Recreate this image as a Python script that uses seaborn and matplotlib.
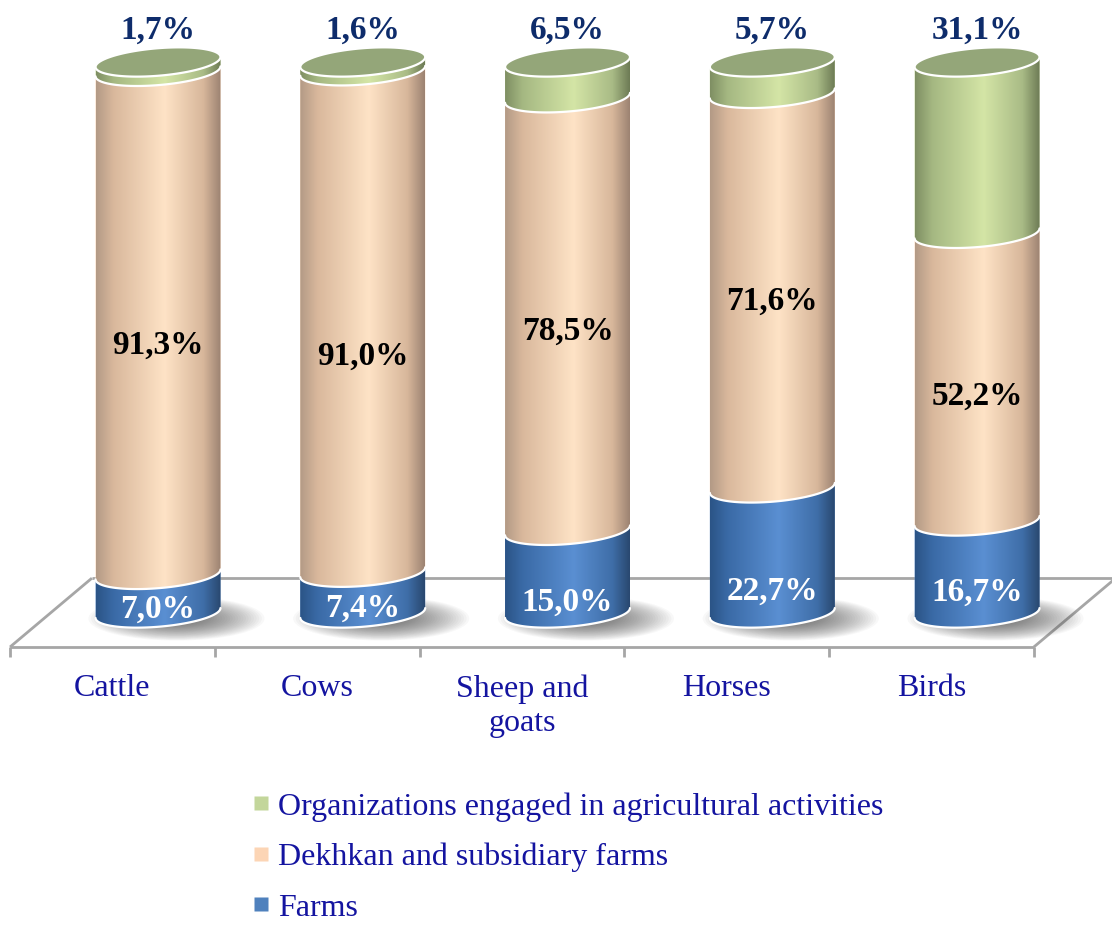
import numpy as np
import pandas as pd
import matplotlib
matplotlib.use("Agg")
import matplotlib.pyplot as plt
import seaborn as sns
from matplotlib.path import Path
from matplotlib.patches import PathPatch, Ellipse
from matplotlib.colors import LinearSegmentedColormap
from matplotlib.lines import Line2D

# ---- data -------------------------------------------------------------
categories = ["Cattle", "Cows", "Sheep and\ngoats", "Horses", "Birds"]
farms = [7.0, 7.4, 15.0, 22.7, 16.7]
dekhkan = [91.3, 91.0, 78.5, 71.6, 52.2]
organizations = [1.7, 1.6, 6.5, 5.7, 31.1]
series_names = ["Farms", "Dekhkan and subsidiary farms",
                "Organizations engaged in agricultural activities"]

# ---- layout -----------------------------------------------------------
W, H, DPI = 1112, 925, 100
X_LIM = (-0.7717, 4.659)
Y_LIM = (-56.62, 111.25)
BAR_W = 0.61
ELL_B = 2.5        # half height of the cylinder ellipses (percent units)
ELL_TILT = 0.9     # slight tilt of the ellipses
DEPTH_DX, DEPTH_DY = 0.40, 12.5   # floor depth
FRONT_SHIFT = 0.2228              # floor front edge offset to the left
FLOOR_FRONT_Y = -6.17
mid_label_y = [48.6, 46.6, 51.2, 56.6, 39.4]
low_label_y = [0.6, 0.8, 2.0, 4.0, 3.8]
top_label_y = 105.8
FS = 24

base_colors = ["#4F81BD", "#FCD5B5", "#C3D69B"]
gradients = [
    ["#2b5486", "#3a6aa6", "#5a8fd2", "#3f6ea8", "#29486f"],
    ["#b39a86", "#d9b89c", "#fee3c6", "#d8b79b", "#9c8372"],
    ["#7f8f63", "#a5b882", "#d4e5a6", "#a9bb86", "#6d7b55"],
]
grad_pos = [0.0, 0.14, 0.55, 0.86, 1.0]
top_face_color = "#94a679"

sns.set_theme(style="white")
plt.rcParams["font.family"] = ["Liberation Serif", "DejaVu Serif"]

fig = plt.figure(figsize=(W / DPI, H / DPI), dpi=DPI)
ax = fig.add_axes([0, 0, 1, 1])

df = pd.DataFrame({"category": categories, series_names[0]: farms,
                   series_names[1]: dekhkan, series_names[2]: organizations})

# stacked bars laid out by seaborn; each rectangle is then turned into a cylinder piece
bottoms = np.zeros(len(categories))
rects = []
for name in series_names:
    n_before = len(ax.patches)
    sns.barplot(data=df, x="category", y=name, bottom=bottoms, width=BAR_W,
                color="white", errorbar=None, ax=ax)
    rects.append(list(ax.patches[n_before:]))
    bottoms = bottoms + df[name].to_numpy()


def lower_arc(cx, a, cy, n=80):
    t = np.linspace(np.pi, 2 * np.pi, n)
    return np.column_stack([cx + a * np.cos(t), cy + ELL_B * np.sin(t) + ELL_TILT * np.cos(t)])


def full_ellipse(cx, a, cy, n=160):
    t = np.linspace(0, 2 * np.pi, n)
    return np.column_stack([cx + a * np.cos(t), cy + ELL_B * np.sin(t) + ELL_TILT * np.cos(t)])


# soft shadows on the floor
for r in rects[0]:
    cx = r.get_x() + r.get_width() / 2
    for k in range(24):
        f = 1 - k * 0.03
        ax.add_patch(Ellipse((cx + 0.09, -1.0), width=0.86 * f, height=8.0 * f,
                             facecolor="#404040", edgecolor="none", alpha=0.035, zorder=1.5))

# floor (3D base)
n = len(categories)
fx0, fx1 = -0.5 - FRONT_SHIFT, n - 0.5 - FRONT_SHIFT
fy, by = FLOOR_FRONT_Y, FLOOR_FRONT_Y + DEPTH_DY
floor_kw = dict(color="#a6a6a6", lw=2.0, solid_capstyle="butt", zorder=1)
ax.plot([fx0, fx1], [fy, fy], **floor_kw)
ax.plot([fx0 + DEPTH_DX, fx1 + DEPTH_DX], [by, by], **floor_kw)
ax.plot([fx0, fx0 + DEPTH_DX], [fy, by], **floor_kw)
ax.plot([fx1, fx1 + DEPTH_DX], [fy, by], **floor_kw)
for tx in np.arange(n + 1) - 0.5 - FRONT_SHIFT:
    ax.plot([tx, tx], [fy, fy - 1.8], **floor_kw)

# cylinder pieces
for s, seg_rects in enumerate(rects):
    cmap = LinearSegmentedColormap.from_list(f"g{s}", list(zip(grad_pos, gradients[s])))
    grad = cmap(np.linspace(0, 1, 256))[None, :, :]
    z = 2 + s
    for r in seg_rects:
        r.set_visible(False)
        x0, w = r.get_x(), r.get_width()
        y0, y1 = r.get_y(), r.get_y() + r.get_height()
        cx, a = x0 + w / 2, w / 2
        verts = np.vstack([lower_arc(cx, a, y0), lower_arc(cx, a, y1)[::-1]])
        verts = np.vstack([verts, verts[:1]])
        codes = [Path.MOVETO] + [Path.LINETO] * (len(verts) - 2) + [Path.CLOSEPOLY]
        patch = PathPatch(Path(verts, codes), facecolor=base_colors[s], edgecolor="none", zorder=z)
        ax.add_patch(patch)
        im = ax.imshow(grad, extent=[x0, x0 + w, y0 - ELL_B - 2, y1 + ELL_B + 2],
                       aspect="auto", interpolation="bilinear", zorder=z + 0.1)
        im.set_clip_path(patch)
        # white rim along the lower edge of each piece
        arc = lower_arc(cx, a, y0)
        ax.plot(arc[:, 0], arc[:, 1], color="white", lw=1.6, zorder=z + 0.2)
        if s == len(rects) - 1:
            top = full_ellipse(cx, a, y1)
            ax.add_patch(plt.Polygon(top, closed=True, facecolor=top_face_color,
                                     edgecolor="white", lw=1.6, zorder=z + 0.5))

# value labels
fmt = lambda v: f"{v:.1f}%".replace(".", ",")
for i, r in enumerate(rects[0]):
    cx = r.get_x() + r.get_width() / 2
    ax.text(cx, low_label_y[i], fmt(farms[i]), ha="center", va="center",
            fontsize=FS, fontweight="bold", color="white", zorder=10)
    ax.text(cx, mid_label_y[i], fmt(dekhkan[i]), ha="center", va="center",
            fontsize=FS, fontweight="bold", color="black", zorder=10)
    ax.text(cx, top_label_y, fmt(organizations[i]), ha="center", va="center",
            fontsize=FS, fontweight="bold", color="#0e2c6b", zorder=10)
    ax.text(i - FRONT_SHIFT, fy - 4.9, categories[i], ha="center", va="top",
            fontsize=23, color="#1414a0", linespacing=1.25)

# legend
handles = [Line2D([], [], marker="s", linestyle="none", markersize=9.5,
                  markerfacecolor=base_colors[k], markeredgecolor="none")
           for k in (2, 1, 0)]
labels = [series_names[k] for k in (2, 1, 0)]
leg = ax.legend(handles, labels, loc="upper left", bbox_to_anchor=(252.7 / W, 1 - 792 / H),
                bbox_transform=fig.transFigure, frameon=False, fontsize=23,
                handlelength=0.5, handletextpad=0.28, labelspacing=0.66,
                borderpad=0, borderaxespad=0)
for t in leg.get_texts():
    t.set_color("#1414a0")

ax.set_xlim(*X_LIM)
ax.set_ylim(*Y_LIM)
ax.axis("off")
fig.savefig("out.png", dpi=DPI)
